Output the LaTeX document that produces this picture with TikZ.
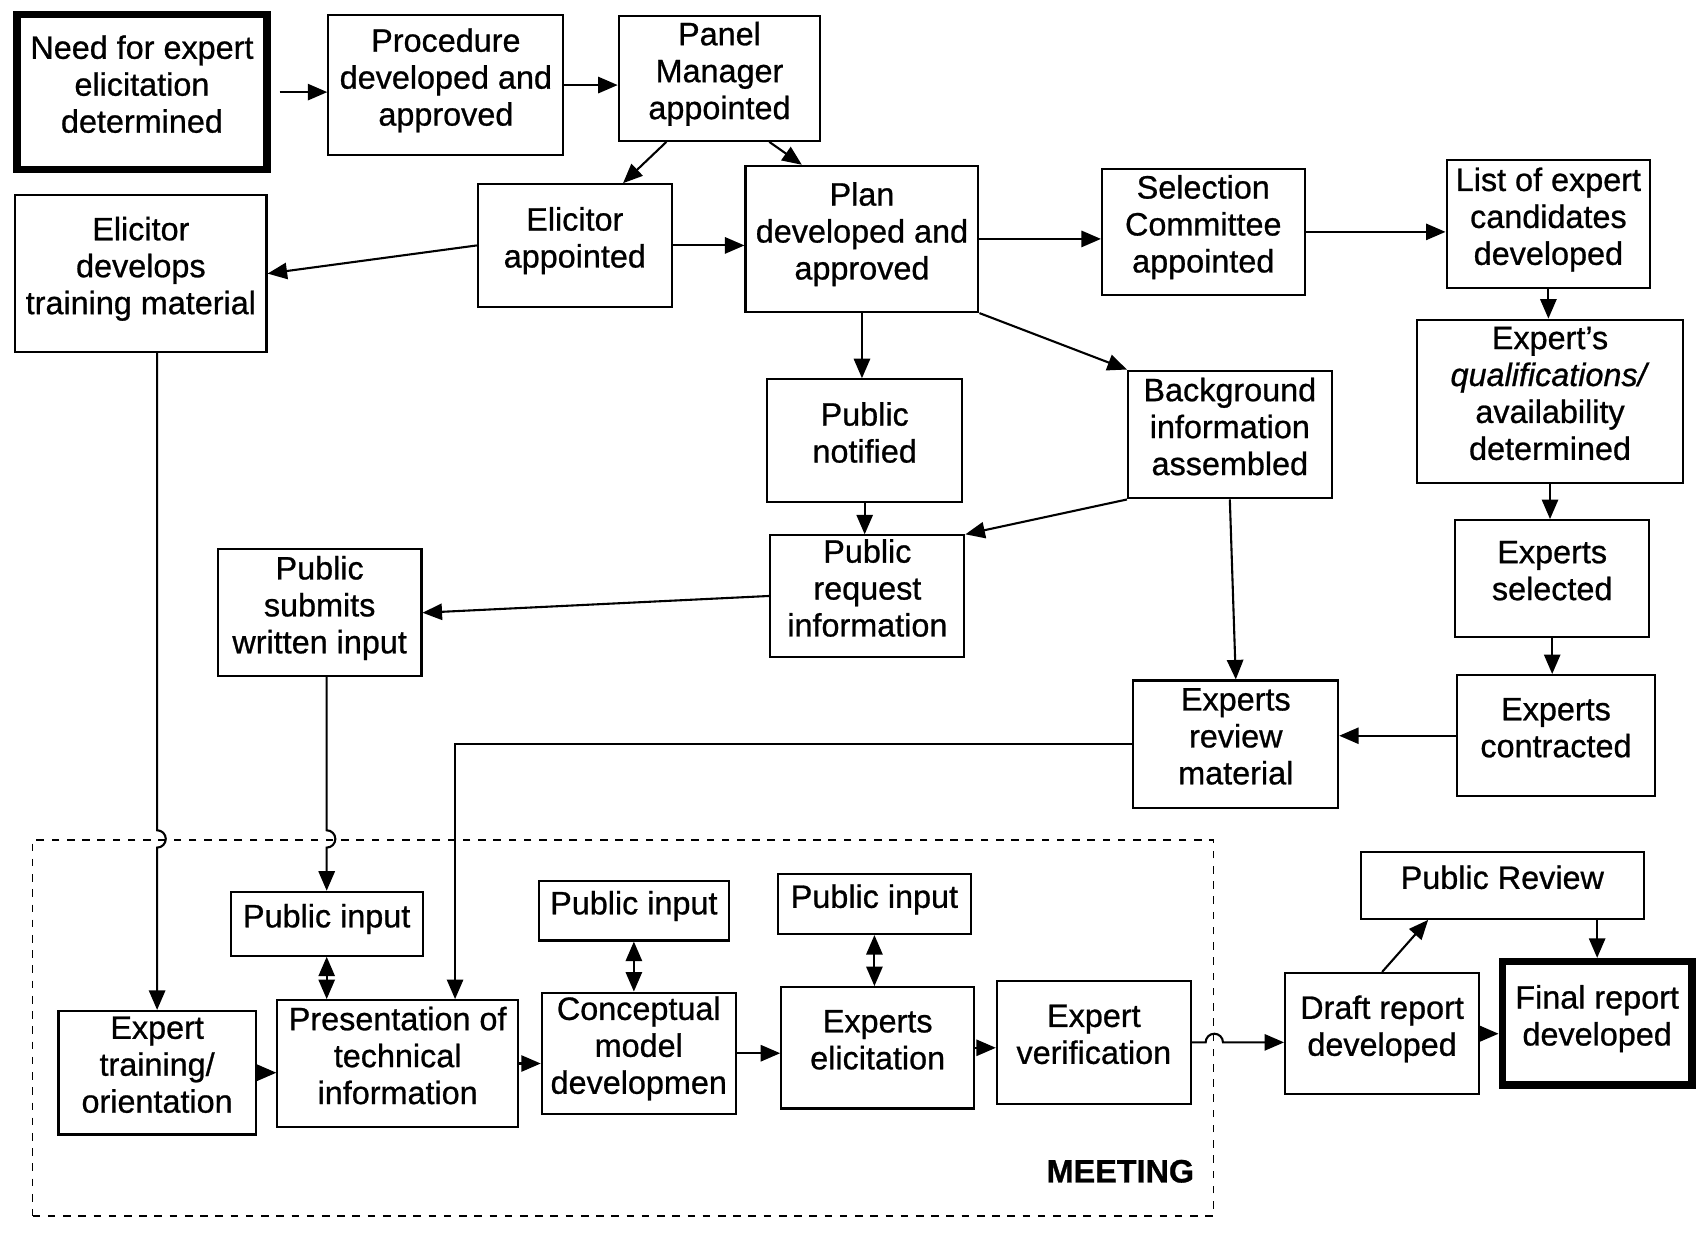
\documentclass[tikz,border=0pt]{standalone}
\usepackage{fontspec}
\setmainfont[FakeBold=0.8]{Liberation Sans}
\usetikzlibrary{arrows.meta,positioning,calc}

\begin{document}
\begin{tikzpicture}[
    x=0.02cm, y=0.02cm,
    box/.style={draw, line width=1.1pt, align=center, inner sep=2pt,
                text depth=0.3cm, font=\fontsize{17}{19.4}\selectfont},
    endbox/.style={box, line width=4pt},
    meetbox/.style={draw, line width=0.9pt, dash pattern=on 4pt off 4pt},
    arr/.style={-{Triangle[length=0.36cm,width=0.3cm]}, line width=1.1pt},
    dbl/.style={{Triangle[length=0.36cm,width=0.3cm]}-{Triangle[length=0.36cm,width=0.3cm]},
                line width=1.1pt}
  ]
    \useasboundingbox (0,0) rectangle (1568,-1146);

    % Meeting frame
    \node[meetbox, minimum width=21.8cm, minimum height=6.94cm] (meeting) at (575,-948.5) {};
    \node[font=\bfseries\fontsize{17}{19.4}\selectfont] (meetlabel) at (1034,-1081) {MEETING};

    % Planning stage
    \node[endbox, minimum width=4.62cm, minimum height=2.86cm] (need) at (131,-85)
      {Need for expert\\elicitation\\determined};
    \node[box, minimum width=4.34cm, minimum height=2.58cm] (proc) at (411.5,-78.5)
      {Procedure\\developed and\\approved};
    \node[box, minimum width=3.72cm, minimum height=2.3cm] (panel) at (664,-72.5)
      {Panel\\Manager\\appointed};
    \node[box, minimum width=4.64cm, minimum height=2.9cm] (edev) at (130,-252.5)
      {Elicitor\\develops\\training material};
    \node[box, minimum width=3.58cm, minimum height=2.26cm] (elic) at (530.5,-226.5)
      {Elicitor\\appointed};
    \node[box, minimum width=4.3cm, minimum height=2.7cm] (plan) at (795.5,-220.5)
      {Plan\\developed and\\approved};
    \node[box, minimum width=3.74cm, minimum height=2.32cm] (selcom) at (1110.5,-214)
      {Selection\\Committee\\appointed};
    \node[box, minimum width=3.76cm, minimum height=2.36cm] (list) at (1429,-207)
      {List of expert\\candidates\\developed};
    \node[box, minimum width=4.9cm, minimum height=3.02cm] (qual) at (1430.5,-370.5)
      {Expert's\\\textit{qualifications/}\\availability\\determined};
    \node[box, minimum width=3.6cm, minimum height=2.26cm] (pubnot) at (798,-406.5)
      {Public\\notified};
    \node[box, minimum width=3.76cm, minimum height=2.36cm] (backg) at (1135,-401)
      {Background\\information\\assembled};
    \node[box, minimum width=3.58cm, minimum height=2.2cm] (pubreq) at (800.5,-550)
      {Public\\request\\information};
    \node[box, minimum width=3.76cm, minimum height=2.34cm] (pubsub) at (295,-565.5)
      {Public\\submits\\written input};
    \node[box, minimum width=3.58cm, minimum height=2.16cm] (expsel) at (1432.5,-534)
      {Experts\\selected};
    \node[box, minimum width=3.64cm, minimum height=2.24cm] (expcon) at (1436,-679)
      {Experts\\contracted};
    \node[box, minimum width=3.78cm, minimum height=2.36cm] (exprev) at (1140.5,-687)
      {Experts\\review\\material};

    % Meeting boxes
    \node[box, minimum width=3.54cm, minimum height=1.18cm] (pubin1) at (301.5,-852.5) {Public input};
    \node[box, minimum width=3.52cm, minimum height=1.1cm] (pubin2) at (585,-840.5) {Public input};
    \node[box, minimum width=3.56cm, minimum height=1.1cm] (pubin3) at (807,-834.5) {Public input};
    \node[box, minimum width=3.64cm, minimum height=2.28cm] (train) at (145,-990)
      {Expert\\training/\\orientation};
    \node[box, minimum width=4.44cm, minimum height=2.34cm] (present) at (367,-981.5)
      {Presentation of\\technical\\information};
    \node[box, minimum width=3.58cm, minimum height=2.2cm] (concept) at (589.5,-972)
      {Conceptual\\model\\developmen};
    \node[box, minimum width=3.56cm, minimum height=2.24cm] (expelic) at (810,-967)
      {Experts\\elicitation};
    \node[box, minimum width=3.58cm, minimum height=2.28cm] (expver) at (1009.5,-962)
      {Expert\\verification};

    % Report
    \node[box, minimum width=3.58cm, minimum height=2.24cm] (draft) at (1275.5,-954)
      {Draft report\\developed};
    \node[endbox, minimum width=3.5cm, minimum height=2.28cm] (final) at (1474,-944.5)
      {Final report\\developed};
    \node[box, minimum width=5.22cm, minimum height=1.24cm] (pubrev) at (1386.5,-817)
      {Public Review};

    % Connectors
    \draw[arr, shorten <=0.16cm] (need.east) -- (need.east -| proc.west);
    \draw[arr] (proc.east) -- (proc.east -| panel.west);
    \draw[arr] ([xshift=-0.98cm]panel.south) -- ([xshift=0.89cm]elic.north);
    \draw[arr] ([xshift=0.92cm]panel.south) -- ([xshift=-1.11cm]plan.north);
    \draw[arr] (elic.west) -- (edev.east);
    \draw[arr] (elic.east) -- (elic.east -| plan.west);
    \draw[arr] (plan.east) -- (plan.east -| selcom.west);
    \draw[arr] (selcom.east) -- (selcom.east -| list.west);
    \draw[arr] (list.south) -- (list.south |- qual.north);
    \draw[arr] (plan.south) -- (plan.south |- pubnot.north);
    \draw[arr] (plan.south east) -- (backg.north west);
    \draw[arr] (pubnot.south) -- (pubnot.south |- pubreq.north);
    \draw[arr] (backg.south west) -- (pubreq.north east);
    \draw[arr] (pubreq.west) -- (pubsub.east);
    \draw[arr] (qual.south) -- (qual.south |- expsel.north);
    \draw[arr] (expsel.south) -- (expsel.south |- expcon.north);
    \draw[arr] (backg.south) -- (exprev.north);
    \draw[arr] (expcon.west) -- (expcon.west -| exprev.east);
    \draw[arr] (exprev.west) -| ([xshift=1.06cm]present.north);

    % Lines hopping over the meeting frame
    \draw[arr] (edev.south -| train.north)
      -- ($(train.north |- meeting.north)+(0,0.16cm)$)
      arc[start angle=90, end angle=-90, radius=0.16cm] -- (train.north);
    \draw[arr] (pubsub.south -| pubin1.north)
      -- ($(pubin1.north |- meeting.north)+(0,0.16cm)$)
      arc[start angle=90, end angle=-90, radius=0.16cm] -- (pubin1.north);
    \draw[arr] (expver.east)
      -- ($(meeting.east |- expver.east)-(0.16cm,0)$)
      arc[start angle=180, end angle=0, radius=0.16cm] -- (expver.east -| draft.west);

    \draw[dbl] (pubin1.south) -- (pubin1.south |- present.north);
    \draw[dbl] (pubin2.south) -- (pubin2.south |- concept.north);
    \draw[dbl] (pubin3.south) -- (pubin3.south |- expelic.north);

    \draw[arr] (train.east) -- (train.east -| present.west);
    \draw[arr] (present.east) -- (present.east -| concept.west);
    \draw[arr] (concept.east) -- (concept.east -| expelic.west);
    \draw[arr] (expelic.east) -- (expelic.east -| expver.west);
    \draw[arr] (draft.east) -- (draft.east -| final.west);
    \draw[arr] (draft.north) -- ([xshift=-1.37cm]pubrev.south);
    \draw[arr] (pubrev.south -| final.north) -- (final.north);
\end{tikzpicture}
\end{document}
